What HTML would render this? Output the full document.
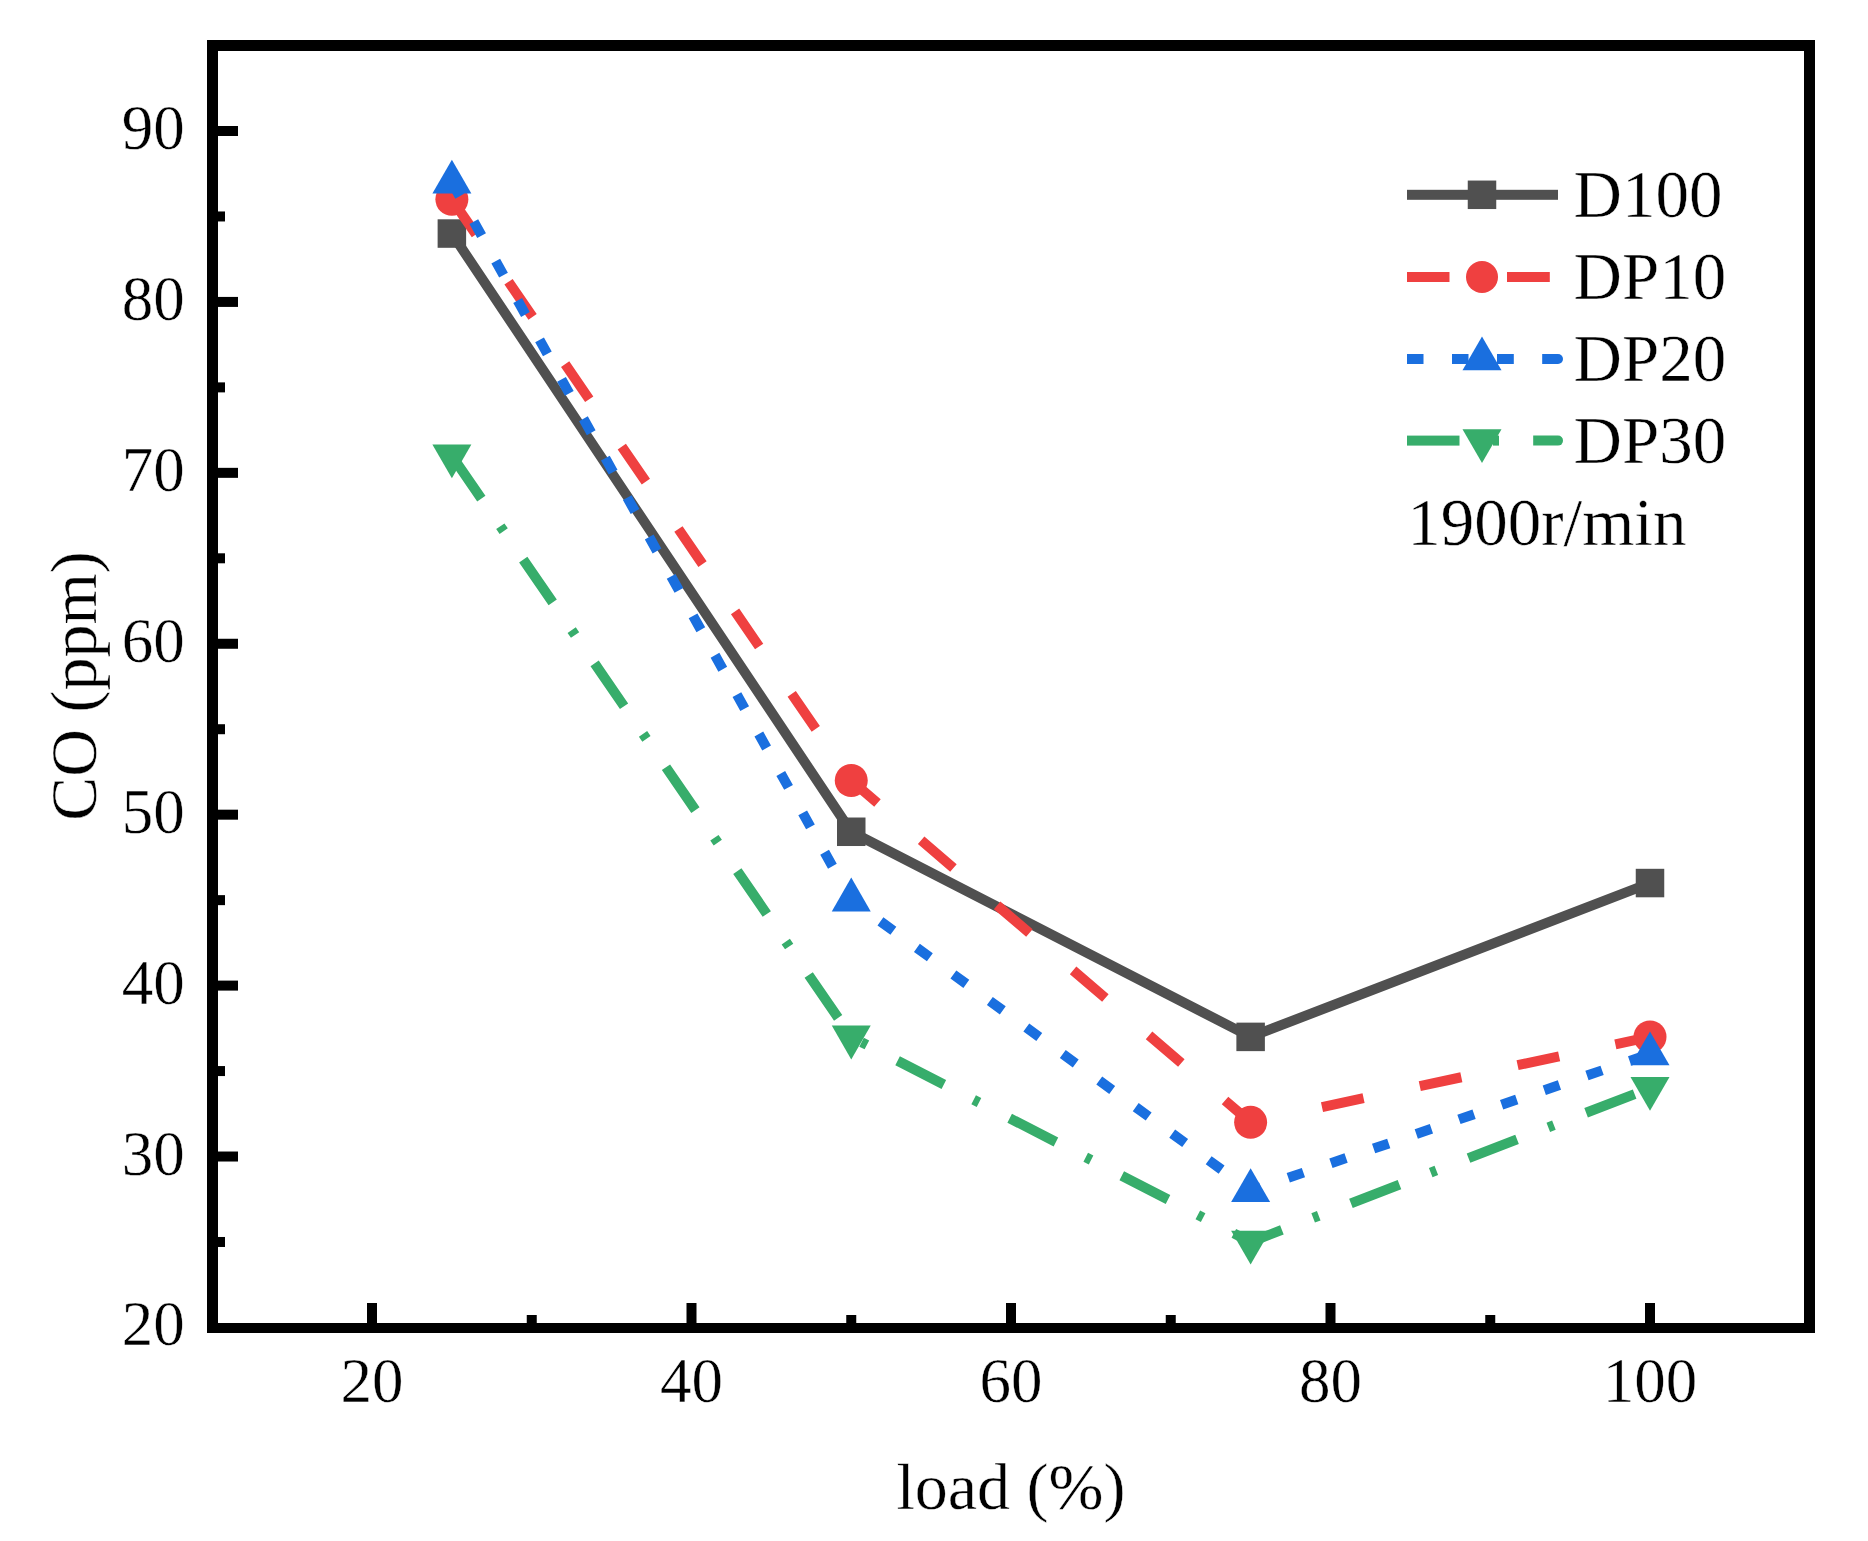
<!DOCTYPE html><html><head><meta charset="utf-8"><style>html,body{margin:0;padding:0;background:#fff;}svg{display:block;}text{font-family:"Liberation Serif","Times New Roman",serif;fill:#000;stroke:#fff;stroke-width:0.4px;}</style></head><body>
<svg width="1868" height="1541" viewBox="0 0 1868 1541">
<rect width="1868" height="1541" fill="#fff"/>
<polyline points="451.88,233.55 851.25,831.77 1250.62,1036.88 1650.00,883.05" fill="none" stroke="#505050" stroke-width="10" stroke-linejoin="miter"/>
<rect x="437.62" y="219.30" width="28.5" height="28.5" fill="#505050"/>
<rect x="837.00" y="817.52" width="28.5" height="28.5" fill="#505050"/>
<rect x="1236.38" y="1022.63" width="28.5" height="28.5" fill="#505050"/>
<rect x="1635.75" y="868.80" width="28.5" height="28.5" fill="#505050"/>
<line x1="451.88" y1="199.37" x2="851.25" y2="780.50" stroke="#EF4040" stroke-width="10" stroke-dasharray="42.5 57.5" stroke-dashoffset="0"/>
<line x1="851.25" y1="780.50" x2="1250.62" y2="1122.34" stroke="#EF4040" stroke-width="10" stroke-dasharray="42.5 57.5" stroke-dashoffset="8"/>
<line x1="1250.62" y1="1122.34" x2="1650.00" y2="1036.88" stroke="#EF4040" stroke-width="10" stroke-dasharray="42.5 57.5" stroke-dashoffset="27"/>
<circle cx="451.88" cy="199.37" r="16.5" fill="#EF4040"/>
<circle cx="851.25" cy="780.50" r="16.5" fill="#EF4040"/>
<circle cx="1250.62" cy="1122.34" r="16.5" fill="#EF4040"/>
<circle cx="1650.00" cy="1036.88" r="16.5" fill="#EF4040"/>
<line x1="451.88" y1="182.28" x2="851.25" y2="900.14" stroke="#1A6FDF" stroke-width="10" stroke-dasharray="16 29.1" stroke-dashoffset="0"/>
<line x1="851.25" y1="900.14" x2="1250.62" y2="1190.70" stroke="#1A6FDF" stroke-width="10" stroke-dasharray="16 29.1" stroke-dashoffset="9.0"/>
<line x1="1250.62" y1="1190.70" x2="1650.00" y2="1053.97" stroke="#1A6FDF" stroke-width="10" stroke-dasharray="16 29.1" stroke-dashoffset="5.3"/>
<polygon points="451.88,159.76 471.38,193.53 432.38,193.53" fill="#1A6FDF"/>
<polygon points="851.25,877.62 870.75,911.40 831.75,911.40" fill="#1A6FDF"/>
<polygon points="1250.62,1168.19 1270.12,1201.96 1231.12,1201.96" fill="#1A6FDF"/>
<polygon points="1650.00,1031.45 1669.50,1065.23 1630.50,1065.23" fill="#1A6FDF"/>
<line x1="451.88" y1="455.75" x2="851.25" y2="1036.88" stroke="#37AD6B" stroke-width="10" stroke-dasharray="52 33.5 6 34.5" stroke-dashoffset="0"/>
<line x1="851.25" y1="1036.88" x2="1250.62" y2="1241.98" stroke="#37AD6B" stroke-width="10" stroke-dasharray="52 33.5 6 34.5" stroke-dashoffset="73.9"/>
<line x1="1250.62" y1="1241.98" x2="1650.00" y2="1088.15" stroke="#37AD6B" stroke-width="10" stroke-dasharray="52 33.5 6 34.5" stroke-dashoffset="18.5"/>
<polygon points="451.88,478.26 471.38,444.49 432.38,444.49" fill="#37AD6B"/>
<polygon points="851.25,1059.39 870.75,1025.62 831.75,1025.62" fill="#37AD6B"/>
<polygon points="1250.62,1264.50 1270.12,1230.72 1231.12,1230.72" fill="#37AD6B"/>
<polygon points="1650.00,1110.67 1669.50,1076.89 1630.50,1076.89" fill="#37AD6B"/>
<g fill="#000">
<rect x="207" y="40" width="1608" height="11"/>
<rect x="207" y="1323" width="1608" height="10"/>
<rect x="207" y="40" width="11" height="1293"/>
<rect x="1804" y="40" width="11" height="1293"/>
<rect x="367.00" y="1303" width="10" height="20"/>
<rect x="686.50" y="1303" width="10" height="20"/>
<rect x="1006.00" y="1303" width="10" height="20"/>
<rect x="1325.50" y="1303" width="10" height="20"/>
<rect x="1645.00" y="1303" width="10" height="20"/>
<rect x="526.75" y="1315" width="10" height="8"/>
<rect x="846.25" y="1315" width="10" height="8"/>
<rect x="1165.75" y="1315" width="10" height="8"/>
<rect x="1485.25" y="1315" width="10" height="8"/>
<rect x="218" y="1151.52" width="20" height="10"/>
<rect x="218" y="980.60" width="20" height="10"/>
<rect x="218" y="809.68" width="20" height="10"/>
<rect x="218" y="638.76" width="20" height="10"/>
<rect x="218" y="467.84" width="20" height="10"/>
<rect x="218" y="296.92" width="20" height="10"/>
<rect x="218" y="126.00" width="20" height="10"/>
<rect x="218" y="1236.98" width="7" height="10"/>
<rect x="218" y="1066.06" width="7" height="10"/>
<rect x="218" y="895.14" width="7" height="10"/>
<rect x="218" y="724.22" width="7" height="10"/>
<rect x="218" y="553.30" width="7" height="10"/>
<rect x="218" y="382.38" width="7" height="10"/>
<rect x="218" y="211.46" width="7" height="10"/>
</g>
<text x="372.00" y="1402" font-size="63" text-anchor="middle">20</text>
<text x="691.50" y="1402" font-size="63" text-anchor="middle">40</text>
<text x="1011.00" y="1402" font-size="63" text-anchor="middle">60</text>
<text x="1330.50" y="1402" font-size="63" text-anchor="middle">80</text>
<text x="1650.00" y="1402" font-size="63" text-anchor="middle">100</text>
<text x="184.8" y="1345.44" font-size="63" text-anchor="end">20</text>
<text x="184.8" y="1174.52" font-size="63" text-anchor="end">30</text>
<text x="184.8" y="1003.60" font-size="63" text-anchor="end">40</text>
<text x="184.8" y="832.68" font-size="63" text-anchor="end">50</text>
<text x="184.8" y="661.76" font-size="63" text-anchor="end">60</text>
<text x="184.8" y="490.84" font-size="63" text-anchor="end">70</text>
<text x="184.8" y="319.92" font-size="63" text-anchor="end">80</text>
<text x="184.8" y="149.00" font-size="63" text-anchor="end">90</text>
<text x="1011" y="1509" font-size="66" text-anchor="middle">load (%)</text>
<text transform="translate(95.5,686) rotate(-90)" x="0" y="0" font-size="66" text-anchor="middle">CO (ppm)</text>
<rect x="1407" y="189.80" width="151.00" height="10" fill="#505050"/>
<rect x="1467.75" y="180.55" width="28.5" height="28.5" fill="#505050"/>
<text x="1573.5" y="217.1" font-size="67">D100</text>
<rect x="1407" y="272.00" width="42.50" height="10" fill="#EF4040"/>
<rect x="1507" y="272.00" width="42.80" height="10" fill="#EF4040"/>
<circle cx="1482" cy="277" r="16" fill="#EF4040"/>
<text x="1573.5" y="298.8" font-size="67">DP10</text>
<rect x="1407" y="354.00" width="16.50" height="10" fill="#1A6FDF"/>
<rect x="1452" y="354.00" width="16.50" height="10" fill="#1A6FDF"/>
<rect x="1497" y="354.00" width="16.80" height="10" fill="#1A6FDF"/>
<path d="M1542.2,354.00 H1558 A5,5 0 0 1 1558,364.00 H1542.2 Z" fill="#1A6FDF"/>
<polygon points="1482.00,336.48 1501.50,370.26 1462.50,370.26" fill="#1A6FDF"/>
<text x="1573.5" y="381.3" font-size="67">DP20</text>
<rect x="1407" y="435.60" width="52.50" height="10" fill="#37AD6B"/>
<rect x="1493" y="435.60" width="6.00" height="10" fill="#37AD6B"/>
<path d="M1533.2,435.60 H1558 A5,5 0 0 1 1558,445.60 H1533.2 Z" fill="#37AD6B"/>
<polygon points="1482.00,463.12 1501.50,429.34 1462.50,429.34" fill="#37AD6B"/>
<text x="1573.5" y="462.6" font-size="67">DP30</text>
<text x="1407.3" y="545.1" font-size="67">1900r/min</text>
</svg></body></html>
